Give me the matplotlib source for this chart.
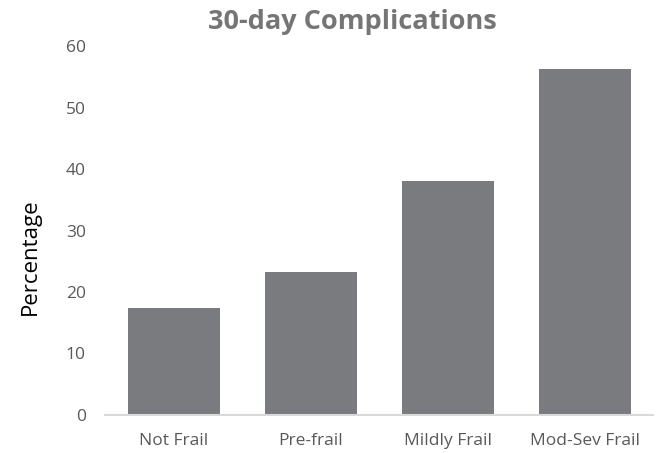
import matplotlib
matplotlib.use('Agg')
import matplotlib.pyplot as plt

# data
categories = ['Not Frail', 'Pre-frail', 'Mildly Frail', 'Mod-Sev Frail']
percentages = [17.4, 23.3, 38.0, 56.3]
yticks = [0, 10, 20, 30, 40, 50, 60]

plt.rcParams['font.family'] = ['Open Sans', 'DejaVu Sans']

fig = plt.figure(figsize=(6.58, 4.53), dpi=100)
ax = fig.add_axes([0.160, 0.084, 0.833, 0.814])

x = range(len(categories))
ax.bar(x, percentages, width=0.67, color='#7a7b7f', zorder=2)

ax.set_xlim(-0.5, len(categories) - 0.5)
ax.set_ylim(0, 60)
ax.set_yticks(yticks)
ax.set_xticks(list(x))
ax.set_xticklabels(categories)

for s in ['top', 'right', 'left']:
    ax.spines[s].set_visible(False)
ax.spines['bottom'].set_color('#d9d9d9')
ax.spines['bottom'].set_linewidth(1.5)
ax.tick_params(axis='both', length=0, colors='#595959', labelsize=12.5)
ax.tick_params(axis='x', pad=13)
ax.tick_params(axis='y', pad=14)

ax.set_ylabel('Percentage', fontsize=16, color='#000000')
ax.yaxis.set_label_coords(-0.117, 0.43)
fig.text(0.535, 0.951, '30-day Complications', ha='center', va='center',
         fontsize=19.5, fontweight='bold', color='#757575')

fig.savefig('out.png', dpi=100)
